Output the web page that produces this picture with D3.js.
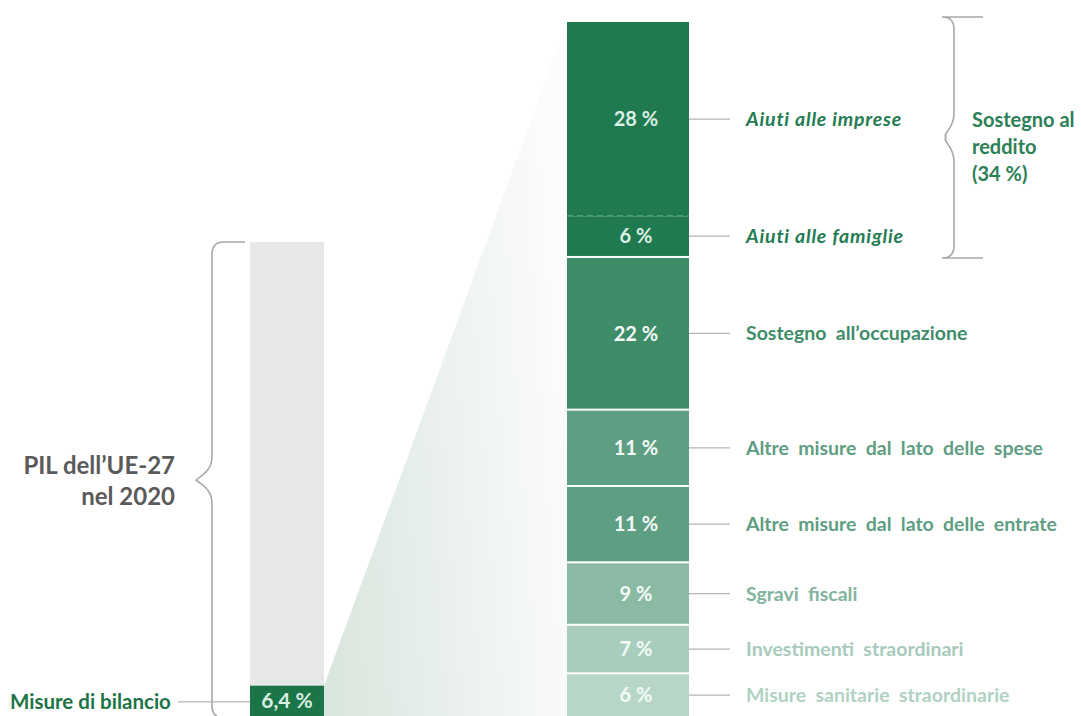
<!DOCTYPE html>
<html>
<head>
<meta charset="utf-8">
<script src="https://cdn.jsdelivr.net/npm/d3@7"></script>
<style>
  html, body { margin: 0; padding: 0; background: #ffffff; }
  svg { display: block; font-family: Lato, "Open Sans", sans-serif; }
</style>
</head>
<body>
<svg id="chart" width="1081" height="716"></svg>
<script>
// Composition of budgetary measures (share of total, %)
const categories = [
  "Aiuti alle imprese",
  "Aiuti alle famiglie",
  "Sostegno all’occupazione",
  "Altre misure dal lato delle spese",
  "Altre misure dal lato delle entrate",
  "Sgravi fiscali",
  "Investimenti straordinari",
  "Misure sanitarie straordinarie"
];
const shares = [28, 6, 22, 11, 11, 9, 7, 6];
// first two items together form the income-support group
const incomeSupport = ["Aiuti alle imprese", "Aiuti alle famiglie"];
const incomeSupportLabel = ["Sostegno al", "reddito"];

// budget measures as share of EU-27 GDP in 2020
const gdpLabel = ["PIL dell’UE-27", "nel 2020"];
const budgetLabel = "Misure di bilancio";
const budgetShareOfGdp = 6.4;

const fillColors = ["#1f7b4f", "#1f7b4f", "#3f8c69", "#5e9e82", "#5e9e82", "#8bbaa4", "#a9cdbc", "#b8d6c8"];
const textColors = ["#237c52", "#237c52", "#3f8c69", "#5e9e82", "#5e9e82", "#82b39c", "#a6cbba", "#b0d2c2"];

const svg = d3.select("#chart");
const it = d3.formatLocale({ decimal: ",", thousands: ".", grouping: [3], currency: ["€", ""] });
const pct = v => it.format(Number.isInteger(v) ? "d" : ".1f")(v) + " %";

// scales
const yRight = d3.scaleLinear().domain([0, 100]).range([22, 716]);
const yLeft = d3.scaleLinear().domain([0, 100]).range([716, 242]);
const rightX = 567, rightW = 122;
const leftX = 250, leftW = 74;

// stacked layout of the breakdown
let acc = 0;
const segs = categories.map((c, i) => {
  const s = { name: c, value: shares[i], start: acc, end: acc + shares[i], i,
              grouped: incomeSupport.includes(c) };
  acc += shares[i];
  return s;
});

// zoom wedge between the two bars
const defs = svg.append("defs");
const grad = defs.append("linearGradient").attr("id", "wedge")
  .attr("x1", 0).attr("y1", 0.8).attr("x2", 1).attr("y2", 0.6);
grad.append("stop").attr("offset", "0%").attr("stop-color", "#d9e6de");
grad.append("stop").attr("offset", "45%").attr("stop-color", "#e9f0ec");
grad.append("stop").attr("offset", "100%").attr("stop-color", "#fbfcfb");
const budgetTop = yLeft(budgetShareOfGdp);
svg.append("path")
  .attr("d", d3.line()([
    [leftX + leftW, budgetTop], [rightX, yRight(0)],
    [rightX, yRight(100)], [leftX + leftW, yLeft(0)]
  ]) + "Z")
  .attr("fill", "url(#wedge)");

// left bar: GDP and share of budget measures
svg.append("rect").attr("x", leftX).attr("width", leftW)
  .attr("y", yLeft(100)).attr("height", yLeft(budgetShareOfGdp) - yLeft(100))
  .attr("fill", "#e6e7e9");
svg.append("rect").attr("x", leftX).attr("width", leftW)
  .attr("y", yLeft(budgetShareOfGdp)).attr("height", yLeft(0) - yLeft(budgetShareOfGdp))
  .attr("fill", "#1c7546");
svg.append("text").attr("x", leftX + leftW / 2).attr("y", (yLeft(budgetShareOfGdp) + 716) / 2)
  .attr("dy", "0.36em").attr("text-anchor", "middle")
  .attr("fill", "#d9efe2").attr("font-weight", 700).attr("font-size", 21)
  .text(pct(budgetShareOfGdp));

// left label with leader
const leaderY = (yLeft(budgetShareOfGdp) + 716) / 2 + 1;
svg.append("line").attr("x1", 178).attr("x2", leftX).attr("y1", leaderY).attr("y2", leaderY)
  .attr("stroke", "#b5b5b5").attr("stroke-width", 1.2);
svg.append("text").attr("x", 10).attr("y", leaderY).attr("dy", "0.36em")
  .attr("fill", "#1d7446").attr("font-weight", 700).attr("font-size", 20.5)
  .text(budgetLabel);

// curly brace helper (vertical)
function brace(x, y0, y1, depth, tip, dir) {
  const ym = (y0 + y1) / 2;
  const sx = x, hx = x + dir * depth; // spine x, hook x
  const tx = sx - dir * tip;
  return `M${hx},${y0} H${sx + dir * 12} Q${sx},${y0} ${sx},${y0 + 12}` +
    ` V${ym - 24} C${sx},${ym - 8} ${tx + dir * 4},${ym - 4} ${tx},${ym}` +
    ` C${tx + dir * 4},${ym + 4} ${sx},${ym + 8} ${sx},${ym + 24}` +
    ` V${y1 - 12} Q${sx},${y1} ${sx + dir * 12},${y1} H${hx}`;
}

svg.append("path").attr("d", brace(212, yLeft(100), 718, 33, 16, 1))
  .attr("fill", "none").attr("stroke", "#a9a9a9").attr("stroke-width", 1.6);
const gdpText = svg.append("text").attr("text-anchor", "end")
  .attr("fill", "#5a5a5a").attr("font-weight", 700).attr("font-size", 24);
gdpLabel.forEach((t, i) => {
  gdpText.append("tspan").attr("x", 175).attr("y", 474 + i * 31).text(t);
});

// right stacked bar
const segG = svg.append("g");
segs.forEach((s, k) => {
  const next = segs[k + 1];
  const gap = next && !(s.grouped && next.grouped) ? 2 : 0;
  const y0 = yRight(s.start), y1 = yRight(s.end) - gap;
  segG.append("rect").attr("x", rightX).attr("width", rightW)
    .attr("y", y0).attr("height", y1 - y0).attr("fill", fillColors[s.i]);
  if (next && gap === 0) {
    segG.append("line").attr("x1", rightX).attr("x2", rightX + rightW)
      .attr("y1", yRight(s.end)).attr("y2", yRight(s.end))
      .attr("stroke", "#86c0a2").attr("stroke-width", 1.5).attr("stroke-dasharray", "6,4");
  }
  const cy = (yRight(s.start) + yRight(s.end) - gap) / 2;
  segG.append("text").attr("x", rightX + rightW / 2 + 8).attr("y", cy).attr("dy", "0.36em")
    .attr("text-anchor", "middle").attr("fill", s.i < 2 ? "#dcefe4" : "#f4faf7")
    .attr("font-weight", 700).attr("font-size", 20).text(pct(s.value));
  segG.append("line").attr("x1", rightX + rightW).attr("x2", 730).attr("y1", cy).attr("y2", cy)
    .attr("stroke", "#b5b5b5").attr("stroke-width", 1.2);
  segG.append("text").attr("x", 746).attr("y", cy).attr("dy", "0.36em")
    .attr("fill", textColors[s.i]).attr("font-weight", 700).attr("font-size", 19.5)
    .attr("font-style", s.grouped ? "italic" : "normal")
    .attr("letter-spacing", s.grouped ? 0.8 : 0)
    .attr("word-spacing", s.grouped ? 0 : 4.5)
    .text(s.name);
});

// income-support brace and label
const grpTotal = d3.sum(segs.filter(s => s.grouped), s => s.value);
svg.append("path").attr("d", brace(954, 17, 258, -29, -8, -1))
  .attr("fill", "none").attr("stroke", "#a9a9a9").attr("stroke-width", 1.6);
const grpText = svg.append("text").attr("fill", "#2b8056").attr("font-weight", 700).attr("font-size", 20);
incomeSupportLabel.concat(["(" + pct(grpTotal) + ")"]).forEach((t, i) => {
  grpText.append("tspan").attr("x", 972).attr("y", 127 + i * 27).text(t);
});
</script>
</body>
</html>
